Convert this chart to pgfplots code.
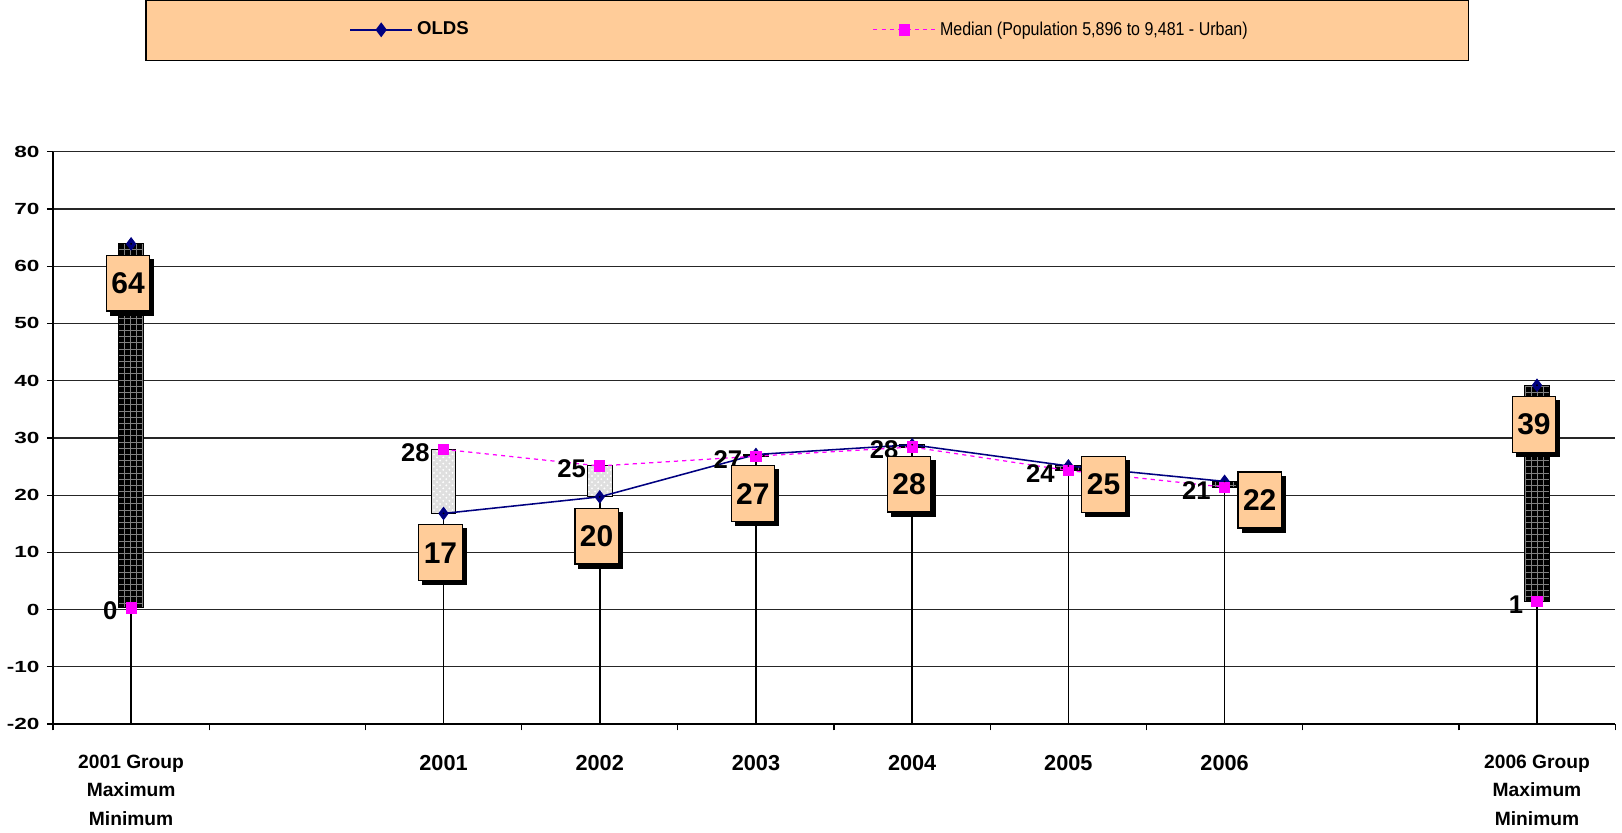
\documentclass[border=0pt]{standalone}
\usepackage{fontspec}
\setmainfont{Liberation Sans}
\usepackage{pgfplots}
\usepackage{pgfplotstable}
\pgfplotsset{compat=1.18}
\usetikzlibrary{patterns}

\definecolor{boxorange}{HTML}{FFCC99}
\definecolor{oldsnavy}{HTML}{000080}
\definecolor{medmag}{HTML}{FF00FF}

\tikzset{
  oldsbox/.style={text=black, font=\bfseries\fontsize{14.5}{16}\selectfont,
    fill=boxorange, draw=black, line width=0.6pt, minimum width=21pt, minimum height=27pt,
    inner sep=1pt, anchor=center, opacity=1},
  oldsshadow/.style={oldsbox, fill=black}
}

% slot 1 and 8 are empty gaps in the category axis
% lo = lower of the two, up/dn = bar heights, hl = high-low line length from -20
\pgfplotstableread{
x olds med lo up dn hl olab mlab
0 63.9 0.3 0.3 0 63.6 20.3 64 0
2 16.8 28.0 16.8 11.2 0 36.8 17 28
3 19.7 25.1 19.7 5.4 0 39.7 20 25
4 27.1 26.8 26.8 0 0.3 46.8 27 27
5 28.8 28.4 28.4 0 0.4 48.4 28 28
6 25.1 24.3 24.3 0 0.8 44.3 25 24
7 22.4 21.4 21.4 0 1.0 41.4 22 21
9 39.2 1.4 1.4 0 37.8 21.4 39 1
}\data

\newcommand{\yr}[1]{{\fontsize{10.5}{13.75}\selectfont #1}}

\begin{document}
\begin{tikzpicture}
\begin{axis}[
  width=756pt, height=277pt, scale only axis,
  xmin=-0.5, xmax=9.5, ymin=-20, ymax=80,
  axis x line*=bottom, axis y line*=left,
  clip=false,
  ytick={-20,-10,...,80},
  yticklabel={\scalebox{1.4}[1]{\pgfmathprintnumber{\tick}}},
  ymajorgrids, grid style={black!85, line width=0.6pt},
  xtick={-0.5,0.5,...,9.5}, xticklabels={},
  extra x ticks={0,2,3,4,5,6,7,9},
  extra x tick labels={{2001 Group\\Maximum\\Minimum},\yr{2001},\yr{2002},\yr{2003},\yr{2004},\yr{2005},\yr{2006},{2006 Group\\Maximum\\Minimum}},
  extra x tick style={major tick length=0pt,
    tick label style={align=center, anchor=north, yshift=-11.5pt}},
  tick align=outside, major tick length=3pt,
  tick style={black, line width=0.6pt},
  axis line style={black, line width=0.8pt},
  /pgf/number format/assume math mode=true,
  yticklabel style={font=\bfseries\fontsize{7.8}{10}\selectfont},
  xticklabel style={font=\bfseries\fontsize{9.3}{13.75}\selectfont},
  legend columns=2,
  legend cell align=left,
  legend image code/.code={\draw[mark repeat=2,mark phase=2,#1] plot coordinates {(0pt,0pt) (15pt,0pt) (30pt,0pt)};},
  legend style={at={(0.1895,1.213)}, anchor=west, draw=none, fill=none,
    inner xsep=0pt, inner ysep=0pt, font=\fontsize{9}{11}\selectfont},
]
\draw[fill=boxorange, line width=0.6pt] (rel axis cs:0.0595,1.1588) rectangle (rel axis cs:0.906,1.264);

% high-low lines from the axis floor
\addplot[draw=none, mark=none, forget plot,
  error bars/.cd, y dir=plus, y explicit, error mark=none,
  error bar style={draw=black, line width=0.75pt}]
  table[x=x, y expr=-20, y error=hl]{\data};

% up/down bars
\addplot[ybar stacked, bar width=12pt, draw=none, fill=none, forget plot]
  table[x=x, y=lo]{\data};
\addplot[ybar stacked, bar width=12pt, draw=black, line width=0.5pt, fill=gray!25,
  postaction={pattern=crosshatch dots, pattern color=white}, forget plot]
  table[x=x, y=up]{\data};
\addplot[ybar stacked, bar width=12pt, draw=black, line width=0.5pt, fill=black,
  postaction={pattern=grid, pattern color=gray}, forget plot]
  table[x=x, y=dn]{\data};

% lines
\addplot[stack plots=false, oldsnavy, line width=0.75pt, mark=none, restrict x to domain=2:7, forget plot]
  table[x=x, y=olds]{\data};
\addplot[stack plots=false, medmag, line width=0.6pt, dash pattern=on 2pt off 2pt, mark=none, restrict x to domain=2:7, forget plot]
  table[x=x, y=med]{\data};

\addplot[stack plots=false, only marks, mark=diamond*, mark size=3pt, oldsnavy, forget plot]
  table[x=x, y=olds]{\data};
\addplot[stack plots=false, only marks, mark=square*, mark size=2.5pt, medmag, forget plot,
  nodes near coords, point meta=explicit symbolic,
  every node near coord/.append style={text=black, font=\bfseries\fontsize{12.4}{14}\selectfont,
    anchor=east, inner sep=0pt, xshift=-6.5pt, yshift=-1.5pt}]
  table[x=x, y=med, meta=mlab]{\data};

% boxed OLDS labels: below the point, except 2005 and 2006 which sit to the right
\pgfplotsset{labelonly/.style={stack plots=false, only marks, mark=*, mark size=0.1pt,
  mark options={draw=none, fill=none}, forget plot, nodes near coords, point meta=explicit symbolic}}
\addplot[labelonly, nodes near coords={}, restrict x to domain=-1:5.5,
  every node near coord/.append style={oldsshadow, xshift=0.5pt, yshift=-21pt}]
  table[x=x, y=olds, meta=olab]{\data};
\addplot[labelonly, nodes near coords={}, restrict x to domain=8.5:10,
  every node near coord/.append style={oldsshadow, xshift=0.5pt, yshift=-21pt}]
  table[x=x, y=olds, meta=olab]{\data};
\addplot[labelonly, nodes near coords={}, restrict x to domain=5.5:7.5,
  every node near coord/.append style={oldsshadow, xshift=19pt, yshift=-11pt}]
  table[x=x, y=olds, meta=olab]{\data};
\addplot[labelonly, restrict x to domain=-1:5.5,
  every node near coord/.append style={oldsbox, xshift=-1.5pt, yshift=-19pt}]
  table[x=x, y=olds, meta=olab]{\data};
\addplot[labelonly, restrict x to domain=8.5:10,
  every node near coord/.append style={oldsbox, xshift=-1.5pt, yshift=-19pt}]
  table[x=x, y=olds, meta=olab]{\data};
\addplot[labelonly, restrict x to domain=5.5:7.5,
  every node near coord/.append style={oldsbox, xshift=17pt, yshift=-9pt}]
  table[x=x, y=olds, meta=olab]{\data};

\addlegendimage{oldsnavy, line width=0.75pt, mark=diamond*, mark size=3pt}
\addlegendentry{\makebox[218.5pt][l]{\bfseries OLDS}}
\addlegendimage{medmag, line width=0.6pt, dash pattern=on 2pt off 2pt, mark=square*, mark size=2.5pt, mark options={solid}}
\addlegendentry{\scalebox{0.86}[1]{Median (Population 5,896 to 9,481 - Urban)}}
\end{axis}
\end{tikzpicture}
\end{document}
